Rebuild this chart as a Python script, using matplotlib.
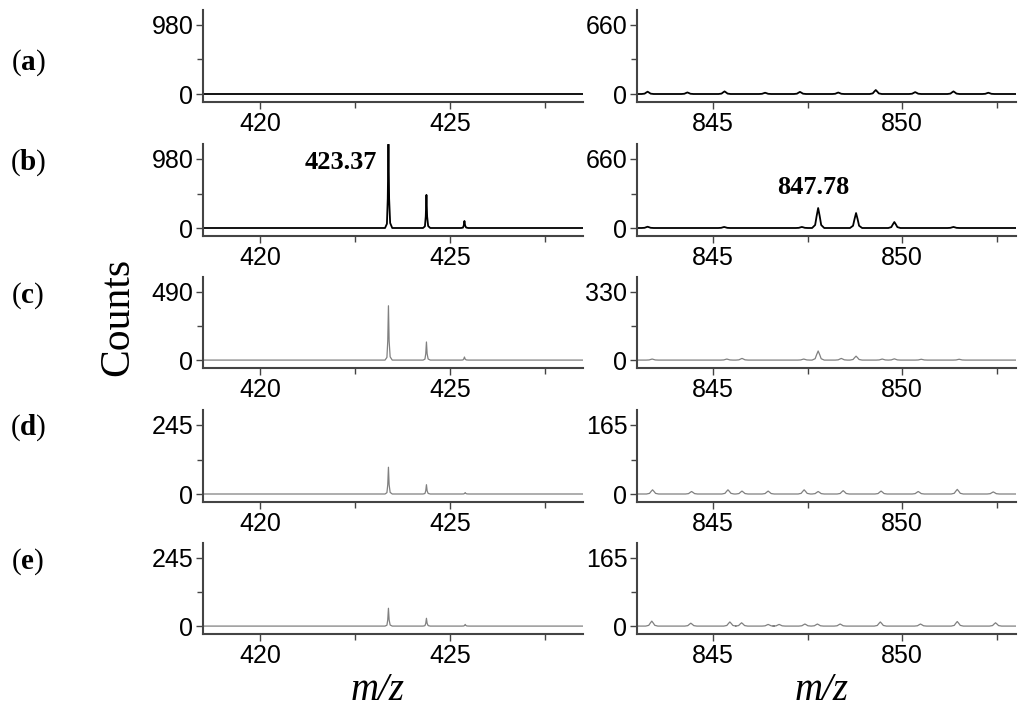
import matplotlib
matplotlib.use('Agg')
import matplotlib.pyplot as plt
from matplotlib.ticker import FixedLocator

plt.rcParams['font.family'] = 'Liberation Sans'
plt.rcParams['mathtext.fontset'] = 'custom'
plt.rcParams['mathtext.rm'] = 'Liberation Serif'
plt.rcParams['mathtext.bf'] = 'Liberation Serif:bold'

# panel labels and y-axis top ticks
panel_letters = ['a', 'b', 'c', 'd', 'e']
left_top = [980, 980, 490, 245, 245]
right_top = [660, 660, 330, 165, 165]

# peaks: centres (m/z) and heights (counts)
left_centres = [
    [],
    [423.38, 424.38, 425.38],
    [423.38, 424.38, 425.38],
    [423.38, 424.38, 425.40],
    [423.38, 424.38, 425.40],
]
left_heights = [
    [],
    [1190, 470, 100],
    [390, 130, 22],
    [95, 33, 5],
    [64, 28, 6],
]
right_centres = [
    [843.28, 844.33, 845.31, 846.38, 847.30, 848.31, 849.30, 850.34, 851.35, 852.27],
    [843.28, 845.30, 847.35, 847.78, 848.78, 849.79, 851.35],
    [843.40, 845.37, 845.77, 847.40, 847.78, 848.39, 848.78, 849.47, 849.79, 850.50, 851.50],
    [843.41, 844.44, 845.40, 845.77, 846.46, 847.41, 847.78, 848.44, 849.44, 850.42, 851.45, 852.40],
    [843.39, 844.42, 845.45, 845.76, 846.46, 846.75, 847.43, 847.76, 848.36, 849.42, 850.48, 851.45, 852.46],
]
right_heights = [
    [22, 15, 25, 12, 20, 14, 38, 18, 25, 12],
    [12, 10, 10, 191, 143, 57, 10],
    [5, 5, 8, 5, 44, 8, 19, 5, 6, 4, 4],
    [10, 6, 10, 7, 7, 10, 6, 8, 7, 6, 11, 5],
    [12, 7, 10, 8, 4, 4, 5, 5, 5, 10, 5, 11, 8],
]

# peak profiles (offset in m/z, fraction of height) traced from the spikes
left_dx = [-0.09, -0.04, -0.018, 0.0, 0.018, 0.045, 0.1]
left_frac = [0, 0.05, 0.35, 1, 0.35, 0.06, 0]
right_dx = [-0.16, -0.08, -0.04, 0.0, 0.04, 0.08, 0.16]
right_frac = [0, 0.15, 0.6, 1, 0.6, 0.15, 0]

left_range = (418.5, 428.5)
right_range = (843.0, 853.0)

annot_text = ['423.37', '847.78']
annot_pos = [(422.13, 937), (847.65, 392)]

W, H = 1024, 719
fig = plt.figure(figsize=(W / 100, H / 100), dpi=100)

rows_px = [(10, 102), (144, 236), (277, 368), (410, 502), (543, 634)]
label_y = [63, 163, 296, 428, 562]
cols_px = [(203, 583), (637, 1016)]


def trace(centres, heights, dx, frac, xr):
    xs = [xr[0]]
    ys = [0]
    for c, h in sorted(zip(centres, heights)):
        for d, f in zip(dx, frac):
            xs.append(c + d)
            ys.append(h * f)
    xs.append(xr[1])
    ys.append(0)
    return xs, ys


for i in range(5):
    y0, y1 = rows_px[i]
    color = 'black' if i < 2 else '#808080'
    lw = 1.3 if i < 2 else 0.9
    for j, (x0, x1) in enumerate(cols_px):
        ax = fig.add_axes([x0 / W, 1 - y1 / H, (x1 - x0) / W, (y1 - y0) / H])
        if j == 0:
            top = left_top[i]
            xs, ys = trace(left_centres[i], left_heights[i], left_dx, left_frac, left_range)
            xr = left_range
            majors = [420, 425]
            minors = [422.5, 427.5]
        else:
            top = right_top[i]
            xs, ys = trace(right_centres[i], right_heights[i], right_dx, right_frac, right_range)
            xr = right_range
            majors = [845, 850]
            minors = [847.5, 852.5]
        ax.plot(xs, ys, color=color, lw=lw, solid_joinstyle='round')
        ax.set_xlim(*xr)
        ax.set_ylim(-8 / 69 * top, top * (1 + 15 / 69))
        ax.set_yticks([0, top])
        ax.yaxis.set_minor_locator(FixedLocator([top / 2]))
        ax.set_xticks(majors)
        ax.xaxis.set_minor_locator(FixedLocator(minors))
        for s in ['top', 'right']:
            ax.spines[s].set_visible(False)
        for s in ['left', 'bottom']:
            ax.spines[s].set_color('#444444')
            ax.spines[s].set_linewidth(1.5)
        ax.tick_params(which='major', length=5, width=1, color='#444444',
                       labelsize=18, pad=2)
        ax.tick_params(which='minor', length=4, width=1, color='#444444')
        ax.patch.set_alpha(0)
        if i == 1:
            tx, ty = annot_pos[j]
            ax.text(tx, ty, annot_text[j], family='Liberation Serif',
                    fontweight='bold', fontsize=19, ha='center', va='center')
    fig.text(28 / W, 1 - label_y[i] / H,
             r'$\mathrm{(}\mathbf{' + panel_letters[i] + r'}\mathrm{)}$',
             fontsize=21, ha='center', va='center')

fig.text(118 / W, 1 - 317 / H, 'Counts', family='Liberation Serif',
         fontsize=30, rotation=90, ha='center', va='center')
fig.text(378 / W, 1 - 690 / H, 'm/z', family='Liberation Serif', style='italic',
         fontsize=28, ha='center', va='center')
fig.text(822 / W, 1 - 690 / H, 'm/z', family='Liberation Serif', style='italic',
         fontsize=28, ha='center', va='center')

fig.savefig('out.png', dpi=100)
